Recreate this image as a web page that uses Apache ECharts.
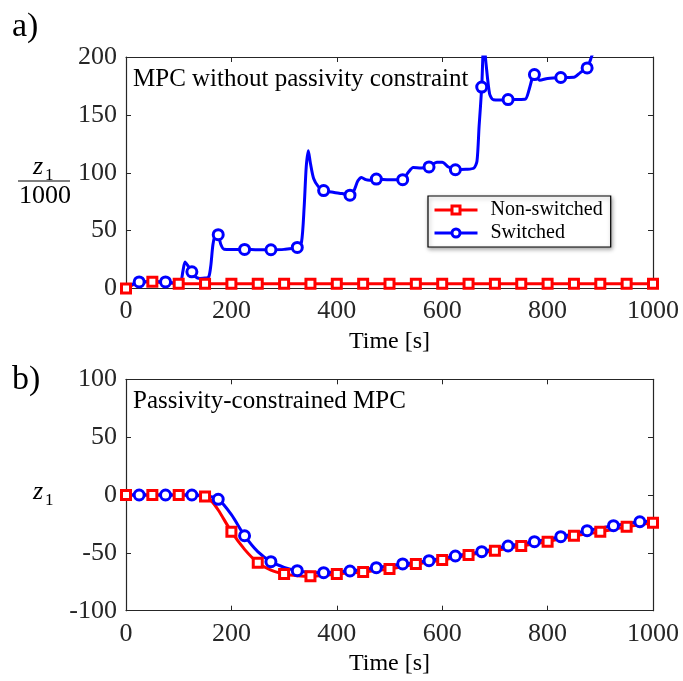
<!DOCTYPE html>
<html>
<head>
<meta charset="utf-8">
<script src="https://cdn.jsdelivr.net/npm/echarts@6/dist/echarts.min.js"></script>
<style>
  html, body { margin: 0; padding: 0; background: #fff; }
  #chart { width: 683px; height: 681px; }
</style>
</head>
<body>
<div id="chart"></div>
<script>
// ---- panel a) : MPC without passivity constraint (z1 / 1000) ----
const nonSwitchedTopTime  = [0, 10, 20, 30, 40, 50, 60, 75, 90, 100, 150, 200, 250, 300, 350, 400, 450, 500, 550, 600, 650, 700, 750, 800, 850, 900, 950, 1000];
const nonSwitchedTopValue = [0, 2.5, 4.5, 5.5, 5.9, 5.8, 5.5, 5.0, 4.5, 4.2, 4.0, 4.0, 4.0, 4.0, 4.0, 4.0, 4.0, 4.0, 4.0, 4.0, 4.0, 4.0, 4.0, 4.0, 4.0, 4.0, 4.0, 4.0];

const switchedTopTime  = [0, 10, 20, 25, 50, 75, 95, 103, 108, 112, 117, 125, 132, 140, 150, 157, 161, 165, 170, 175, 180, 186, 200, 225, 250, 275, 300, 325, 333, 338, 342, 346, 350, 356, 365, 375, 395, 410, 425, 432, 440, 447, 455, 462, 475, 500, 525, 535, 545, 560, 575, 590, 600, 612, 625, 645, 660, 666, 670, 675, 679, 683, 690, 697, 710, 725, 757, 765, 772, 775, 785, 800, 825, 850, 862, 875, 884, 895, 925, 950, 975, 1000];
const switchedTopValue = [0, 3, 5.5, 5.7, 6, 5.7, 4.5, 4.5, 15, 23, 20, 14.4, 10, 8.7, 9, 10, 20, 38, 47, 46.5, 38, 34, 33.8, 33.8, 33.5, 33.5, 33.8, 35.5, 40, 70, 105, 119, 108, 95, 88, 84.6, 83, 82, 80.6, 84, 93, 96, 94, 93.5, 94.5, 94, 94, 100, 104.5, 104, 105, 109, 109, 105, 102.6, 103, 104, 110, 140, 174, 215, 195, 168, 163, 162.8, 163.2, 163.5, 172, 183.5, 184.8, 180, 181.5, 182.3, 182.5, 186.5, 190.6, 201, 215, 230, 235, 240, 245];

// ---- panel b) : passivity-constrained MPC (z1) ----
const nonSwitchedBotTime  = [0, 50, 100, 150, 160, 175, 200, 225, 250, 275, 300, 325, 350, 375, 400, 450, 500, 550, 600, 650, 700, 750, 800, 850, 900, 950, 1000];
const nonSwitchedBotValue = [0, 0, 0, -1.2, -4, -13, -31.7, -47, -58.5, -65, -68.3, -69.8, -70.3, -69.6, -68.3, -66.5, -64, -59.6, -56.2, -51.9, -48.1, -44.1, -40.3, -35.2, -31.7, -27.4, -23.9];

const switchedBotTime  = [0, 25, 75, 125, 150, 175, 200, 225, 250, 275, 300, 325, 350, 375, 400, 425, 475, 525, 575, 625, 675, 725, 775, 825, 875, 925, 975, 1000];
const switchedBotValue = [0, 0, 0, 0, -0.5, -3.7, -17, -35.2, -49, -57.6, -62.5, -65.4, -66.8, -67.1, -66.5, -65.7, -62.8, -59.6, -56.8, -52.7, -49, -44.1, -40.3, -36, -30.8, -26.5, -23.1, -22.5];

// marker times (the curves carry a marker every 50 s)
const nonSwitchedMarks = [0, 50, 100, 150, 200, 250, 300, 350, 400, 450, 500, 550, 600, 650, 700, 750, 800, 850, 900, 950, 1000];
const switchedMarks    = [25, 75, 125, 175, 225, 275, 325, 375, 425, 475, 525, 575, 625, 675, 725, 775, 825, 875, 925, 975];

const timeTicks = [0, 200, 400, 600, 800, 1000];
const seriesNames = ['Non-switched', 'Switched'];

const RED = '#ff0000';
const BLUE = '#0000ff';
const INK = '#262626';
const FONT = "'Liberation Serif', 'Times New Roman', serif";

function buildData(times, values, marks) {
  return times.map((t, i) => {
    const item = { value: [t, values[i]] };
    if (marks.indexOf(t) < 0) item.symbol = 'none';
    return item;
  });
}

function lineSeries(name, color, symbol, xi, yi, data) {
  return {
    name: name,
    type: 'line',
    xAxisIndex: xi,
    yAxisIndex: yi,
    data: data,
    smooth: 0.25,
    symbol: symbol,
    symbolSize: symbol === 'rect' ? 9 : 10,
    showAllSymbol: true,
    clip: true,
    lineStyle: { color: color, width: 3 },
    itemStyle: { color: '#ffffff', borderColor: color, borderWidth: 3 },
    emphasis: { disabled: true },
    animation: false
  };
}

const GRID_LEFT = 126, GRID_W = 527;
const grids = [
  { left: GRID_LEFT, top: 57, width: GRID_W, height: 231.5, show: false },
  { left: GRID_LEFT, top: 379.3, width: GRID_W, height: 231.4, show: false }
];

const axisLine = { show: true, onZero: false, lineStyle: { color: INK, width: 1.2 } };
const tickIn = { show: true, inside: true, length: 5, lineStyle: { color: INK, width: 1 } };
const labelStyle = { color: INK, fontFamily: FONT, fontSize: 26 };

function mainX(grid) {
  return {
    type: 'value', gridIndex: grid, min: 0, max: 1000, interval: 200,
    position: 'bottom',
    axisLine: axisLine, axisTick: tickIn, splitLine: { show: false },
    axisLabel: Object.assign({ margin: 10, formatter: v => (timeTicks.indexOf(v) >= 0 ? String(v) : '') }, labelStyle),
    name: 'Time [s]', nameLocation: 'middle', nameGap: 41,
    nameTextStyle: { color: '#000', fontFamily: FONT, fontSize: 24 }
  };
}
function mirrorX(grid) {
  return {
    type: 'value', gridIndex: grid, min: 0, max: 1000, interval: 200,
    position: 'top', axisLine: axisLine, axisTick: tickIn,
    axisLabel: { show: false }, splitLine: { show: false }
  };
}
function mainY(grid, min, max) {
  return {
    type: 'value', gridIndex: grid, min: min, max: max, interval: 50,
    position: 'left', axisLine: axisLine, axisTick: tickIn, splitLine: { show: false },
    axisLabel: Object.assign({ margin: 9 }, labelStyle)
  };
}
function mirrorY(grid, min, max) {
  return {
    type: 'value', gridIndex: grid, min: min, max: max, interval: 50,
    position: 'right', axisLine: axisLine, axisTick: tickIn,
    axisLabel: { show: false }, splitLine: { show: false }
  };
}

const option = {
  backgroundColor: '#ffffff',
  animation: false,
  grid: grids,
  xAxis: [mainX(0), mirrorX(0), mainX(1), mirrorX(1)],
  yAxis: [mainY(0, 0, 200), mirrorY(0, 0, 200), mainY(1, -100, 100), mirrorY(1, -100, 100)],
  legend: {
    data: seriesNames,
    orient: 'vertical',
    left: 428, top: 196,
    itemWidth: 43, itemHeight: 10, itemGap: 3,
    padding: [4, 8, 4, 5],
    backgroundColor: '#ffffff',
    borderColor: '#000000', borderWidth: 1.2, borderRadius: 0,
    shadowBlur: 4, shadowColor: 'rgba(0,0,0,0.35)', shadowOffsetX: 1, shadowOffsetY: 2,
    selectedMode: false,
    lineStyle: { width: 3 },
    itemStyle: { borderWidth: 3 },
    textStyle: { color: '#000', fontFamily: FONT, fontSize: 20, padding: [0, 0, 0, 8] }
  },
  series: [
    lineSeries(seriesNames[0], RED, 'rect', 0, 0, buildData(nonSwitchedTopTime, nonSwitchedTopValue, nonSwitchedMarks)),
    lineSeries(seriesNames[1], BLUE, 'circle', 0, 0, buildData(switchedTopTime, switchedTopValue, switchedMarks)),
    lineSeries(seriesNames[0], RED, 'rect', 2, 2, buildData(nonSwitchedBotTime, nonSwitchedBotValue, nonSwitchedMarks)),
    lineSeries(seriesNames[1], BLUE, 'circle', 2, 2, buildData(switchedBotTime, switchedBotValue, switchedMarks))
  ],
  graphic: [
    { type: 'text', left: 12, top: 10, style: { text: 'a)', font: '34px ' + FONT, fill: '#000' } },
    { type: 'text', left: 12, top: 363, style: { text: 'b)', font: '34px ' + FONT, fill: '#000' } },
    { type: 'text', left: 133, top: 67, style: { text: 'MPC without passivity constraint', font: '25px ' + FONT, fill: '#000' } },
    { type: 'text', left: 133, top: 389, style: { text: 'Passivity-constrained MPC', font: '25px ' + FONT, fill: '#000' } },
    // y label of panel a): z1 over 1000
    { type: 'text', left: 33, top: 154, style: { text: 'z', font: 'italic 26px ' + FONT, fill: '#000' } },
    { type: 'text', left: 45, top: 167, style: { text: '1', font: '17px ' + FONT, fill: '#000' } },
    { type: 'line', shape: { x1: 18, y1: 181, x2: 70, y2: 181 }, style: { stroke: '#000', lineWidth: 1.2 } },
    { type: 'text', left: 19, top: 183, style: { text: '1000', font: '26px ' + FONT, fill: '#000' } },
    // y label of panel b): z1
    { type: 'text', left: 33, top: 479, style: { text: 'z', font: 'italic 26px ' + FONT, fill: '#000' } },
    { type: 'text', left: 45, top: 492, style: { text: '1', font: '17px ' + FONT, fill: '#000' } }
  ]
};

const chart = echarts.init(document.getElementById('chart'), null, { renderer: 'canvas' });
chart.setOption(option);
</script>
</body>
</html>
